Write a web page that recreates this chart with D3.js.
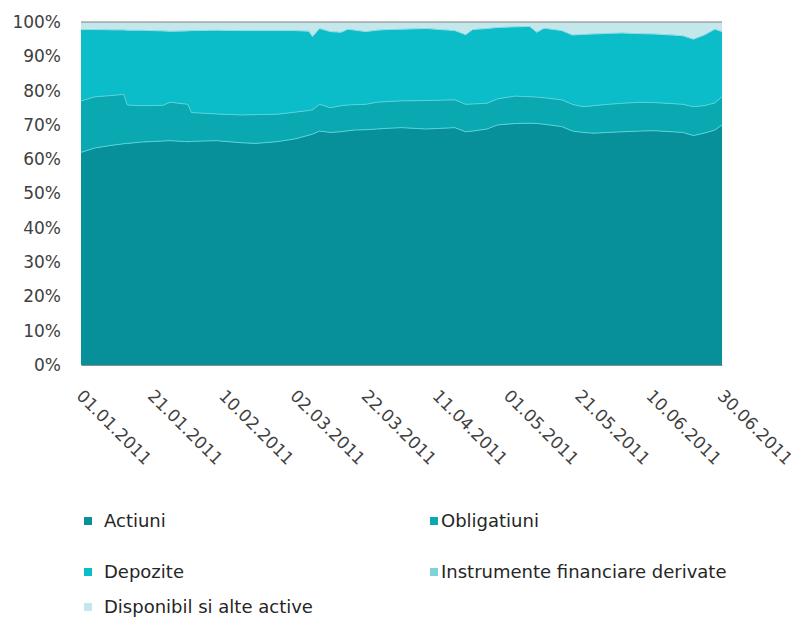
<!DOCTYPE html>
<html>
<head>
<meta charset="utf-8">
<script src="https://cdn.jsdelivr.net/npm/d3@7"></script>
<style>
  body { margin: 0; background: #fff; }
  svg { display: block; font-family: "DejaVu Sans", sans-serif; }
</style>
</head>
<body>
<div id="chart"></div>
<script>
// date points (dd.mm.yyyy)
const dates = [
  "01.01.2011","05.01.2011","10.01.2011","13.01.2011","14.01.2011","18.01.2011","24.01.2011","26.01.2011",
  "31.01.2011","01.02.2011","08.02.2011","15.02.2011","19.02.2011","25.02.2011","02.03.2011","06.03.2011",
  "07.03.2011","09.03.2011","12.03.2011","15.03.2011","17.03.2011","19.03.2011","22.03.2011","25.03.2011",
  "28.03.2011","01.04.2011","08.04.2011","16.04.2011","19.04.2011","21.04.2011","25.04.2011","28.04.2011",
  "03.05.2011","07.05.2011","09.05.2011","11.05.2011","16.05.2011","19.05.2011","22.05.2011","25.05.2011",
  "29.05.2011","02.06.2011","07.06.2011","11.06.2011","16.06.2011","19.06.2011","22.06.2011","25.06.2011",
  "28.06.2011","30.06.2011"
];

// shares in % per category
const actiuni = [
  62.0,63.3,64.1,64.5,64.6,65.0,65.3,65.4,65.1,65.2,65.4,64.8,64.6,65.1,65.9,67.0,
  67.3,68.2,67.8,68.0,68.3,68.5,68.6,68.8,69.0,69.2,68.8,69.2,68.0,68.2,68.8,70.0,
  70.4,70.5,70.4,70.2,69.5,68.2,67.8,67.6,67.8,68.0,68.2,68.3,68.0,67.8,66.9,67.6,
  68.5,70.0
];
const obligatiuni = [
  15.0,14.9,14.5,14.4,11.2,10.6,10.4,11.2,10.9,8.4,7.8,8.1,8.4,8.0,7.8,7.2,
  7.1,7.8,7.2,7.6,7.5,7.4,7.4,7.8,7.8,7.8,8.3,8.1,8.0,7.9,7.5,7.6,
  8.0,7.7,7.7,7.7,7.8,7.8,7.5,8.0,8.2,8.3,8.4,8.2,8.2,8.2,8.4,8.0,
  7.9,8.2
];
const depozite = [
  20.8,19.6,19.1,18.8,21.8,22.0,21.7,20.7,21.4,23.9,24.4,24.6,24.5,24.4,23.8,23.1,
  21.4,22.1,22.2,21.4,22.1,21.7,21.2,21.0,21.0,20.9,21.0,20.2,20.3,21.7,21.8,20.8,
  20.2,20.5,18.9,20.3,20.2,20.2,21.1,20.9,20.7,20.5,20.0,20.0,20.0,20.0,19.7,20.6,
  21.5,19.0
];
const derivate = [
  0.2,0.2,0.2,0.2,0.2,0.2,0.2,0.2,0.2,0.2,0.2,0.2,0.2,0.2,0.2,0.2,
  0.2,0.2,0.2,0.2,0.2,0.2,0.2,0.2,0.2,0.2,0.2,0.2,0.2,0.2,0.2,0.2,
  0.2,0.2,0.2,0.2,0.2,0.2,0.2,0.2,0.2,0.2,0.2,0.2,0.2,0.2,0.2,0.2,
  0.2,0.2
];
const disponibil = [
  2.0,2.0,2.1,2.1,2.2,2.2,2.4,2.5,2.4,2.3,2.2,2.3,2.3,2.3,2.3,2.5,
  4.0,1.7,2.6,2.8,1.9,2.2,2.6,2.2,2.0,1.9,1.7,2.3,3.5,2.0,1.7,1.4,
  1.2,1.1,2.8,1.6,2.3,3.6,3.4,3.3,3.1,3.0,3.2,3.3,3.6,3.8,4.8,3.6,
  1.9,2.6
];

const categories = ["Actiuni", "Obligatiuni", "Depozite", "Instrumente financiare derivate", "Disponibil si alte active"];
const colors = ["#08909a", "#0aa8b1", "#0bbdc8", "#7dd3d9", "#c3e7eb"];
const xTicks = ["01.01.2011","21.01.2011","10.02.2011","02.03.2011","22.03.2011","11.04.2011","01.05.2011","21.05.2011","10.06.2011","30.06.2011"];
const yTicks = [0, 0.1, 0.2, 0.3, 0.4, 0.5, 0.6, 0.7, 0.8, 0.9, 1];

const parseDate = d3.utcParse("%d.%m.%Y");
const series = [actiuni, obligatiuni, depozite, derivate, disponibil];
const rows = dates.map((d, i) => {
  const r = { date: parseDate(d) };
  categories.forEach((c, k) => r[c] = series[k][i]);
  return r;
});

const width = 802, height = 621;
const marginLeft = 81, marginRight = 80, marginTop = 22, marginBottom = 256;

const x = d3.scaleUtc()
  .domain([parseDate(dates[0]), parseDate(dates[dates.length - 1])])
  .range([marginLeft, width - marginRight]);

const y = d3.scaleLinear()
  .domain([0, 1])
  .range([height - marginBottom, marginTop]);

const stacked = d3.stack()
  .keys(categories)
  .offset(d3.stackOffsetExpand)(rows);

const svg = d3.select("#chart")
  .append("svg")
  .attr("width", width)
  .attr("height", height)
  .attr("viewBox", [0, 0, width, height]);

const area = d3.area()
  .x(d => x(d.data.date))
  .y0(d => y(d[0]))
  .y1(d => y(d[1]));

svg.append("g")
  .selectAll("path")
  .data(stacked)
  .join("path")
  .attr("fill", (d, i) => colors[i])
  .attr("d", area);

// light separator lines on top of the lower layers
const topLine = d3.line()
  .x(d => x(d.data.date))
  .y(d => y(d[1]));

svg.append("g")
  .selectAll("path")
  .data(stacked.slice(0, 3))
  .join("path")
  .attr("fill", "none")
  .attr("stroke", (d, i) => i < 2 ? "#55d2da" : "#8fdde3")
  .attr("stroke-width", 1)
  .attr("d", topLine);

// frame: top line
svg.append("line")
  .attr("x1", marginLeft).attr("x2", width - marginRight)
  .attr("y1", y(1)).attr("y2", y(1))
  .attr("stroke", "#7f7f7f");

// y axis labels
svg.append("g")
  .attr("transform", `translate(${marginLeft},0)`)
  .call(d3.axisLeft(y).tickValues(yTicks).tickFormat(d3.format(".0%")).tickSize(0).tickPadding(20))
  .call(g => g.select(".domain").remove())
  .selectAll("text")
  .attr("fill", "#404040")
  .style("font-size", "17px")
  .style("font-family", "DejaVu Sans, sans-serif");

// x axis
const xAxis = svg.append("g")
  .attr("transform", `translate(0,${height - marginBottom})`)
  .call(d3.axisBottom(x).tickValues(xTicks.map(parseDate)).tickFormat(d3.utcFormat("%d.%m.%Y")).tickSize(0));

xAxis.select(".domain").attr("stroke", "#8c8c8c");

xAxis.selectAll("text")
  .attr("text-anchor", "start")
  .attr("dy", "0")
  .attr("y", 0)
  .attr("transform", "translate(-6,32) rotate(45)")
  .attr("fill", "#404040")
  .style("font-size", "17px")
  .style("font-family", "DejaVu Sans, sans-serif");

// legend
const legendPos = [
  { x: 84, y: 521, gap: 20 }, { x: 430, y: 521, gap: 11 },
  { x: 84, y: 572, gap: 20 }, { x: 430, y: 572, gap: 11 },
  { x: 84, y: 607, gap: 20 }
];

const legend = svg.append("g")
  .selectAll("g")
  .data(categories)
  .join("g")
  .attr("transform", (d, i) => `translate(${legendPos[i].x},${legendPos[i].y})`);

legend.append("rect")
  .attr("x", 0).attr("y", -4)
  .attr("width", 8).attr("height", 8)
  .attr("fill", (d, i) => colors[i]);

legend.append("text")
  .attr("x", (d, i) => legendPos[i].gap)
  .attr("y", 0)
  .attr("dy", "0.35em")
  .attr("fill", "#262626")
  .style("font-size", "18px")
  .text(d => d);
</script>
</body>
</html>
